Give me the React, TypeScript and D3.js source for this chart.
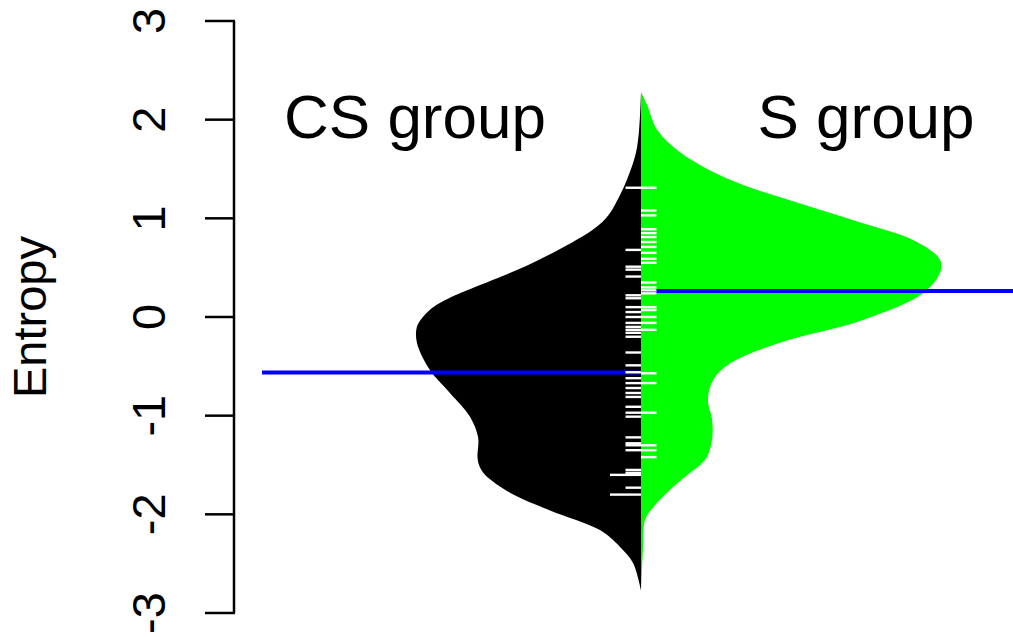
import React, { useEffect, useRef } from "react";
import * as d3 from "d3";

// density profiles: [entropy, density]
const csDensity: [number, number][] = [
  [2.28, 0], [1.72, 0.013], [1.39, 0.047], [1.12, 0.09], [1.0, 0.117],
  [0.88, 0.163], [0.55, 0.36], [0.27, 0.58], [0.19, 0.64], [0.1, 0.693],
  [0.0, 0.727], [-0.1, 0.747], [-0.26, 0.747], [-0.54, 0.703], [-0.77, 0.637],
  [-1.01, 0.57], [-1.22, 0.543], [-1.42, 0.545], [-1.5, 0.54], [-1.6, 0.52],
  [-1.78, 0.437], [-1.96, 0.303], [-2.16, 0.137], [-2.33, 0.07], [-2.49, 0.027],
  [-2.77, 0],
];

const sDensity: [number, number][] = [
  [2.28, 0], [2.15, 0.02], [1.9, 0.053], [1.67, 0.13], [1.39, 0.297],
  [1.16, 0.52], [0.95, 0.74], [0.78, 0.907], [0.58, 0.997], [0.45, 0.997],
  [0.24, 0.94], [-0.03, 0.74], [-0.26, 0.463], [-0.47, 0.297], [-0.64, 0.24],
  [-0.84, 0.223], [-1.04, 0.237], [-1.24, 0.237], [-1.42, 0.22], [-1.5, 0.197],
  [-1.58, 0.163], [-1.75, 0.097], [-1.93, 0.04], [-2.06, 0.013], [-2.33, 0.007],
  [-2.8, 0],
];

// individual observations (rug lines): [entropy, count]
const csValues: [number, number][] = [
  [1.31, 1], [0.68, 1], [0.51, 1], [0.48, 1], [0.41, 1], [0.22, 1], [0.19, 1],
  [0.1, 1], [0.05, 1], [0.0, 1], [-0.06, 1], [-0.1, 1], [-0.13, 1], [-0.16, 1],
  [-0.2, 1], [-0.36, 1], [-0.49, 1], [-0.56, 1], [-0.62, 1], [-0.67, 1],
  [-0.72, 1], [-0.77, 1], [-0.81, 1], [-0.91, 1], [-0.97, 1], [-1.01, 1],
  [-1.22, 1], [-1.28, 1], [-1.3, 1], [-1.35, 1], [-1.55, 1], [-1.58, 1],
  [-1.6, 2], [-1.73, 1], [-1.8, 2],
];

const sValues: [number, number][] = [
  [1.31, 1], [1.08, 1], [1.03, 1], [0.89, 1], [0.85, 1], [0.81, 1], [0.76, 1],
  [0.71, 1], [0.65, 1], [0.59, 1], [0.55, 1], [0.35, 1], [0.3, 1], [0.27, 1],
  [0.24, 1], [0.1, 1], [0.07, 1], [0.0, 1], [-0.06, 1], [-0.13, 1], [-0.57, 1],
  [-0.67, 1], [-0.97, 1], [-1.3, 1], [-1.35, 1], [-1.42, 1],
];

const groupNames = ["CS group", "S group"];
const groupMeans = [-0.5625, 0.264];
const yTicks = [-3, -2, -1, 0, 1, 2, 3];

const App = () => {
  const ref = useRef<SVGSVGElement>(null);

  useEffect(() => {
    const svg = d3.select(ref.current);
    svg.selectAll("*").remove();

    const width = 1013;
    const height = 637;
    const cx = 641;
    const font = "'Liberation Sans', Arial, sans-serif";

    const y = d3.scaleLinear().domain([-3, 3]).range([613, 21]);
    const w = d3.scaleLinear().domain([0, 1]).range([0, 300]);

    svg.attr("width", width).attr("height", height);

    const leftArea = d3
      .area<[number, number]>()
      .y((d) => y(d[0]))
      .x0(cx)
      .x1((d) => Math.min(cx, cx - w(d[1])))
      .curve(d3.curveCatmullRom.alpha(0.5));

    const rightArea = d3
      .area<[number, number]>()
      .y((d) => y(d[0]))
      .x0(cx)
      .x1((d) => Math.max(cx, cx + w(d[1])))
      .curve(d3.curveCatmullRom.alpha(0.5));

    svg.append("path").attr("d", leftArea(csDensity)).attr("fill", "#000000");
    svg.append("path").attr("d", rightArea(sDensity)).attr("fill", "#00ff00");

    // mean lines
    const meanLen = 379;
    svg
      .append("line")
      .attr("x1", cx - meanLen)
      .attr("x2", cx)
      .attr("y1", y(groupMeans[0]))
      .attr("y2", y(groupMeans[0]))
      .attr("stroke", "#0000ff")
      .attr("stroke-width", 4);
    svg
      .append("line")
      .attr("x1", cx)
      .attr("x2", cx + meanLen)
      .attr("y1", y(groupMeans[1]))
      .attr("y2", y(groupMeans[1]))
      .attr("stroke", "#0000ff")
      .attr("stroke-width", 4);

    // rug lines
    const rugLen = 15.5;
    svg
      .append("g")
      .selectAll("line")
      .data(csValues)
      .join("line")
      .attr("x1", (d) => cx - rugLen * d[1])
      .attr("x2", cx)
      .attr("y1", (d) => y(d[0]))
      .attr("y2", (d) => y(d[0]))
      .attr("stroke", "#ffffff")
      .attr("stroke-width", 2.4);
    svg
      .append("g")
      .selectAll("line")
      .data(sValues)
      .join("line")
      .attr("x1", cx)
      .attr("x2", (d) => cx + rugLen * d[1])
      .attr("y1", (d) => y(d[0]))
      .attr("y2", (d) => y(d[0]))
      .attr("stroke", "#ffffff")
      .attr("stroke-width", 2.4);

    // y axis
    const axis = svg.append("g");
    axis
      .append("line")
      .attr("x1", 234)
      .attr("x2", 234)
      .attr("y1", y(-3))
      .attr("y2", y(3))
      .attr("stroke", "#000")
      .attr("stroke-width", 2.5);
    axis
      .selectAll("line.tick")
      .data(yTicks)
      .join("line")
      .attr("class", "tick")
      .attr("x1", 205)
      .attr("x2", 235)
      .attr("y1", (d) => y(d))
      .attr("y2", (d) => y(d))
      .attr("stroke", "#000")
      .attr("stroke-width", 2.5);
    axis
      .selectAll("text")
      .data(yTicks)
      .join("text")
      .attr("transform", (d) => `translate(165,${y(d)}) rotate(-90)`)
      .attr("text-anchor", "middle")
      .attr("font-family", font)
      .attr("font-size", 47)
      .text((d) => d);

    svg
      .append("text")
      .attr("transform", `translate(46,${y(0)}) rotate(-90)`)
      .attr("text-anchor", "middle")
      .attr("font-family", font)
      .attr("font-size", 47)
      .text("Entropy");

    // group titles
    const titleX = [415, 866];
    svg
      .append("g")
      .selectAll("text")
      .data(groupNames)
      .join("text")
      .attr("x", (d, i) => titleX[i])
      .attr("y", 138)
      .attr("text-anchor", "middle")
      .attr("font-family", font)
      .attr("font-size", 62)
      .text((d) => d);
  }, []);

  return (
    <svg
      ref={ref}
      style={{ position: "absolute", left: 0, top: 0, display: "block", background: "#fff" }}
    ></svg>
  );
};

export default App;
